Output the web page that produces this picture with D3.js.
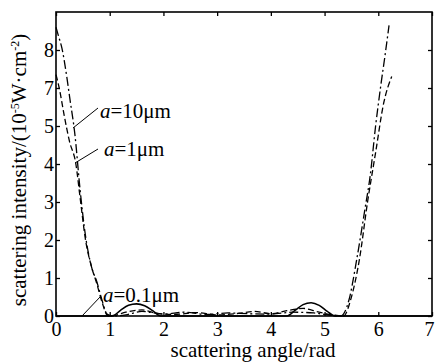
<!doctype html>
<html lang="en">
  <head>
    <meta charset="utf-8">
    <title>scattering intensity</title>
    <script src="https://d3js.org/d3.v7.min.js"></script>
    <style>
      body { margin: 0; background: #fff; }
      text { font-family: "Liberation Serif", "DejaVu Serif", serif; fill: #000; }
    </style>
  </head>

  <body>
    <svg width="435" height="364"></svg>

    <script>
      // values are in axis-position units (tick i sits at position i)
      var xTicks = [0, 1, 2, 3, 4, 5, 6, 7];
      var yTickLabels = ['0', '1', '2', '3', '4', '5', '7', '8'];

      var a10x = [0, 0.05, 0.11, 0.2, 0.26, 0.35, 0.45, 0.55, 0.66, 0.76, 0.86, 0.95, 1.05, 1.3, 1.6, 2.0, 2.4, 2.8, 3.2, 3.6, 4.0, 4.4, 4.8, 5.1, 5.3, 5.45, 5.6, 5.75, 5.85, 5.95, 6.05, 6.12, 6.2];
      var a10y = [7.6, 7.35, 7.05, 6.3, 5.7, 4.8, 3.3, 2.1, 1.3, 0.9, 0.4, 0.05, 0, 0.03, 0.12, 0.05, 0.1, 0.04, 0.08, 0.06, 0.05, 0.1, 0.08, 0.02, 0, 0.4, 1.5, 2.8, 3.7, 5.0, 6.1, 6.8, 7.65];

      var a1x = [0, 0.06, 0.15, 0.25, 0.37, 0.45, 0.55, 0.66, 0.76, 0.86, 0.97, 1.1, 1.3, 1.6, 1.85, 2.2, 2.6, 3.0, 3.4, 3.7, 4.0, 4.3, 4.6, 4.9, 5.2, 5.35, 5.5, 5.65, 5.8, 5.95, 6.1, 6.25];
      var a1y = [6.35, 6.0, 5.3, 4.6, 4.0, 3.1, 2.0, 1.3, 0.85, 0.35, 0, 0.02, 0.1, 0.16, 0.08, 0.04, 0.09, 0.03, 0.07, 0.12, 0.06, 0.14, 0.2, 0.1, 0.02, 0, 0.5, 1.5, 3.0, 4.3, 5.6, 6.3];

      var a01x = [0, 1.05, 1.2, 1.35, 1.5, 1.65, 1.8, 1.95, 4.3, 4.45, 4.6, 4.75, 4.9, 5.05, 5.2, 7];
      var a01y = [0, 0, 0.15, 0.28, 0.32, 0.27, 0.14, 0, 0, 0.15, 0.3, 0.35, 0.28, 0.12, 0, 0];

      var series = [
        { name: 'a=10μm', xs: a10x, ys: a10y, dash: '9,3,2,3' },
        { name: 'a=1μm', xs: a1x, ys: a1y, dash: '6,3' },
        { name: 'a=0.1μm', xs: a01x, ys: a01y, dash: null }
      ];

      var svg = d3.select('svg');
      var mLeft = 56, mRight = 432, mTop = 12, mBottom = 316;

      var x = d3.scaleLinear().domain([0, 7]).range([mLeft, mRight]);
      var y = d3.scaleLinear().domain([0, 8]).range([mBottom, mTop]);
      var yTicks = d3.range(yTickLabels.length);

      var line = d3.line()
        .x(function(d){ return x(d[0]); })
        .y(function(d){ return y(d[1]); })
        .curve(d3.curveMonotoneX);

      var plot = svg.append('g');
      series.forEach(function(s){
        var pts = s.xs.map(function(v, i){ return [v, s.ys[i]]; });
        plot.append('path')
          .attr('d', line(pts))
          .attr('fill', 'none')
          .attr('stroke', '#000')
          .attr('stroke-width', s.dash ? 1.3 : 1.6)
          .attr('stroke-dasharray', s.dash);
      });

      // inward ticks on all four sides
      var tickStyle = function(g){
        g.select('.domain').remove();
        g.selectAll('.tick line').attr('stroke', '#000').attr('stroke-width', 1.3);
        g.selectAll('.tick text').style('font-size', '20px').attr('fill', '#000');
      };

      svg.append('g')
        .attr('transform', 'translate(0,' + mBottom + ')')
        .call(d3.axisBottom(x).tickValues(xTicks).tickSize(-4).tickPadding(6).tickFormat(d3.format('d')))
        .call(tickStyle)
        .selectAll('.tick text')
        .filter(function(d){ return d === 7; })
        .attr('dx', -3);
      svg.append('g')
        .attr('transform', 'translate(0,' + mTop + ')')
        .call(d3.axisTop(x).tickValues(xTicks).tickSize(-4).tickFormat(''))
        .call(tickStyle);
      svg.append('g')
        .attr('transform', 'translate(' + mLeft + ',0)')
        .call(d3.axisLeft(y).tickValues(yTicks).tickSize(-4).tickPadding(2)
          .tickFormat(function(d){ return yTickLabels[d]; }))
        .call(tickStyle);
      svg.append('g')
        .attr('transform', 'translate(' + mRight + ',0)')
        .call(d3.axisRight(y).tickValues(yTicks).tickSize(-4).tickFormat(''))
        .call(tickStyle);

      svg.append('rect')
        .attr('x', mLeft).attr('y', mTop)
        .attr('width', mRight - mLeft).attr('height', mBottom - mTop)
        .attr('fill', 'none').attr('stroke', '#000').attr('stroke-width', 1.6);

      // curve labels with pointer lines
      var notes = [
        { a: 'a', rest: '=10μm', tx: 100, ty: 118, px: [98, 108, 73, 128] },
        { a: 'a', rest: '=1μm', tx: 104, ty: 156, px: [98, 149, 75, 163] },
        { a: 'a', rest: '=0.1μm', tx: 103, ty: 302, px: [101, 296, 82, 316] }
      ];
      notes.forEach(function(n){
        svg.append('line')
          .attr('x1', n.px[0]).attr('y1', n.px[1]).attr('x2', n.px[2]).attr('y2', n.px[3])
          .attr('stroke', '#000').attr('stroke-width', 1);
        var t = svg.append('text').attr('x', n.tx).attr('y', n.ty).style('font-size', '21px');
        t.append('tspan').style('font-style', 'italic').text(n.a);
        t.append('tspan').text(n.rest);
      });

      svg.append('text')
        .attr('x', 253).attr('y', 357)
        .attr('text-anchor', 'middle')
        .style('font-size', '21px')
        .text('scattering angle/rad');

      var yt = svg.append('text')
        .attr('transform', 'translate(26,170) rotate(-90)')
        .attr('text-anchor', 'middle')
        .style('font-size', '21px');
      yt.append('tspan').text('scattering intensity/(10');
      yt.append('tspan').attr('dy', -7).style('font-size', '12px').text('-5');
      yt.append('tspan').attr('dy', 7).text('W·cm');
      yt.append('tspan').attr('dy', -7).style('font-size', '12px').text('-2');
      yt.append('tspan').attr('dy', 7).text(')');
    </script>
  </body>
</html>
